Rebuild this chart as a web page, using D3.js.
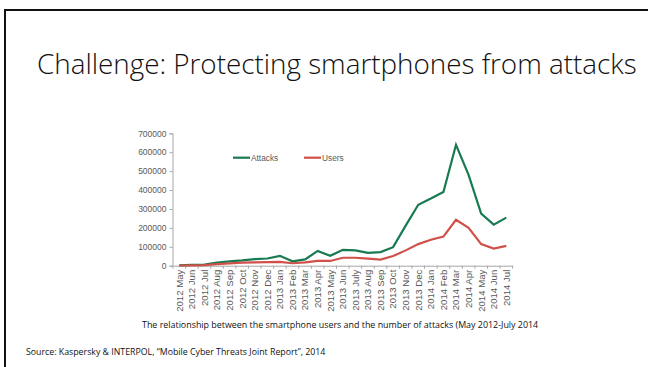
<!DOCTYPE html>
<html><head><meta charset="utf-8">
<script src="https://cdn.jsdelivr.net/npm/d3@7"></script>
<style>html,body{margin:0;padding:0;background:#fff;overflow:hidden}</style>
</head><body>
<script>
const categories = ["2012 May","2012 Jun","2012 Jul","2012 Aug","2012 Sep","2012 Oct","2012 Nov","2012 Dec",
 "2013 Jan","2013 Feb","2013 Mar","2013 Apr","2013 May","2013 Jun","2013 July","2013 Aug","2013 Sep","2013 Oct","2013 Nov","2013 Dec",
 "2014 Jan","2014 Feb","2014 Mar","2014 Apr","2014 May","2014 Jun","2014 Jul"];
const attacks = [2000,5000,6000,16000,23000,28000,35000,38000,52000,23000,33000,78000,52000,84000,81000,68000,72000,98000,212000,322000,355000,390000,639000,480000,275000,217000,254000];
const users = [1000,2000,3000,8000,12000,16000,18000,19000,20000,13000,18000,25000,25000,42000,42000,37000,32000,51000,81000,114000,137000,154000,243000,200000,114000,91000,105000];
const yTicks = [0,100000,200000,300000,400000,500000,600000,700000];
const seriesNames = ["Attacks","Users"];
const seriesColors = ["#187a50","#d0504a"];
const titleText = "Challenge: Protecting smartphones from attacks";
const captionText = "The relationship between the smartphone users and the number of attacks (May 2012-July 2014";
const sourceText = "Source: Kaspersky & INTERPOL, \u201cMobile Cyber Threats Joint Report\u201d, 2014";

const W = 648, H = 367;
const svg = d3.select("body").append("svg").attr("width", W).attr("height", H);

// slide frame
svg.append("rect").attr("x",4).attr("y",9).attr("width",W-4).attr("height",2).attr("fill","#111");
svg.append("rect").attr("x",4).attr("y",9).attr("width",2).attr("height",H-9).attr("fill","#111");

function fit(sel, width){
  const w = sel.node().getComputedTextLength();
  const fs = parseFloat(sel.attr("font-size"));
  sel.attr("font-size", fs*width/w);
}

const title = svg.append("text").attr("x",37).attr("y",74)
  .attr("font-family","'Open Sans', Lato, sans-serif").attr("font-weight",300)
  .attr("font-size",26).attr("fill","#111").text(titleText);
fit(title, 600);

const x = d3.scaleBand().domain(categories).range([173, 512.6]).padding(0);
const y = d3.scaleLinear().domain([0,700000]).range([265.7,133.3]);

// y axis
const yAxis = svg.append("g").attr("transform","translate(172.5,0)")
  .call(d3.axisLeft(y).tickValues(yTicks).tickFormat(d3.format("d")).tickSizeOuter(0).tickSize(3).tickPadding(3));
yAxis.select(".domain").attr("stroke","#a6a6a6");
yAxis.selectAll(".tick line").attr("stroke","#a6a6a6");
yAxis.selectAll("text").attr("font-family","'Liberation Sans', Arial, sans-serif").attr("font-size",8.5).attr("fill","#595959");

// x axis
const xAxis = svg.append("g").attr("transform","translate(0,265.7)")
  .call(d3.axisBottom(x).tickSize(0).tickSizeOuter(0).tickPadding(0));
xAxis.select(".domain").attr("stroke","#a6a6a6");
xAxis.selectAll(".tick text")
  .attr("font-family","'Liberation Sans', Arial, sans-serif").attr("font-size",9.6).attr("fill","#595959")
  .attr("text-anchor","end").attr("transform","rotate(-90)")
  .attr("x",-4).attr("y",0).attr("dy","0.35em");
// boundary ticks
xAxis.selectAll(".btick").data(categories.concat(["_end"])).join("line")
  .attr("class","btick")
  .attr("x1",(d,i)=> i<categories.length ? x(d) : x.range()[1])
  .attr("x2",(d,i)=> i<categories.length ? x(d) : x.range()[1])
  .attr("y1",0).attr("y2",3).attr("stroke","#a6a6a6");

const cx = d => x(d) + x.bandwidth()/2;
const line = d3.line().x(d=>cx(d.c)).y(d=>y(d.v));
[attacks, users].forEach((arr, k) => {
  svg.append("path").datum(categories.map((c,i)=>({c, v: arr[i]})))
    .attr("d", line).attr("fill","none").attr("stroke", seriesColors[k])
    .attr("stroke-width",2.2).attr("stroke-linejoin","miter");
});

// legend
const legX = [233, 304];
seriesNames.forEach((n,k)=>{
  svg.append("line").attr("x1",legX[k]).attr("x2",legX[k]+17).attr("y1",157.7).attr("y2",157.7)
    .attr("stroke",seriesColors[k]).attr("stroke-width",2.2);
  svg.append("text").attr("x",legX[k]+18).attr("y",157.7).attr("dy","0.35em")
    .attr("font-family","'Liberation Sans', Arial, sans-serif").attr("font-size",8.3).attr("fill","#595959").text(n);
});

const cap = svg.append("text").attr("x",142).attr("y",328)
  .attr("font-family","'Open Sans', sans-serif").attr("font-size",8.5).attr("fill","#111").text(captionText);
fit(cap, 397);
const src = svg.append("text").attr("x",26).attr("y",355)
  .attr("font-family","'Open Sans', sans-serif").attr("font-size",8).attr("fill","#111").text(sourceText);
fit(src, 300);
</script>
</body></html>
